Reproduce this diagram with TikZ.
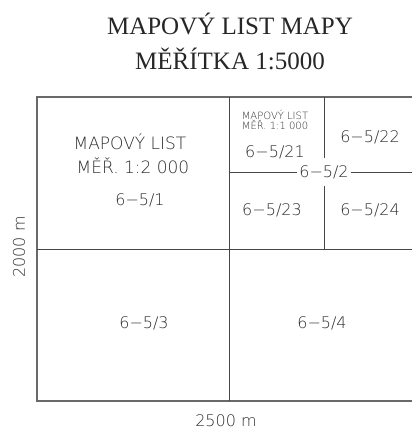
\documentclass[tikz,border=0pt]{standalone}
\usepackage{fontspec}
\setmainfont{Liberation Serif}
\newfontfamily\cadfont{DejaVuSans-ExtraLight.ttf}
\usepackage{xcolor}
\definecolor{rimgray}{RGB}{105,105,105}
\definecolor{linegray}{RGB}{70,70,70}
\definecolor{textgray}{RGB}{45,45,45}
\usetikzlibrary{calc}

\begin{document}
\begin{tikzpicture}[x=0.5pt, y=-0.5pt,
    rim/.style={line width=1pt, draw=rimgray},
    cut/.style={line width=0.5pt, draw=linegray},
    titlelbl/.style={font=\fontsize{12.5}{15}\selectfont, text=black!85, anchor=base, inner sep=0pt},
    lbl/.style={font=\cadfont\fontsize{8}{9.6}\selectfont, text=textgray, anchor=base, inner sep=0pt},
    biglbl/.style={lbl, font=\cadfont\fontsize{8.5}{10}\selectfont},
    smalllbl/.style={lbl, font=\cadfont\fontsize{5}{6}\selectfont}
  ]
    \useasboundingbox (0,0) rectangle (412,427);
    \clip (0,0) rectangle (412,427);

    % title
    \node[titlelbl] (title1) at (230,35) {MAPOVÝ LIST MAPY};
    \node[titlelbl] (title2) at (230,70) {MĚŘÍTKA 1:5000};

    % corners of the sheet
    \coordinate (nw) at (37,97);
    \coordinate (sw) at (37,401);
    \coordinate (ne) at (412,97);
    \coordinate (se) at (412,401);
    \coordinate (n) at (229,97);
    \coordinate (s) at (229,401);
    \coordinate (w) at (37,249);
    \coordinate (e) at (412,249);
    \coordinate (qn) at (324,97);
    \coordinate (qs) at (324,249);
    \coordinate (qw) at (229,172);
    \coordinate (qe) at (412,172);

    \draw[rim] (ne) -- (nw) -- (sw) -- (se);
    \draw[cut] (n) -- (s);
    \draw[cut] (w) -- (e);

    % sheet labels
    \node[biglbl] (m1a) at (130,149) {MAPOVÝ LIST};
    \node[biglbl] (m1b) at (133,174) {MĚŘ. 1:2 000};
    \node[lbl] (l1) at (140,205) {6−5/1};
    \node[smalllbl] (m21a) at (275,120) {MAPOVÝ LIST};
    \node[smalllbl] (m21b) at (275,130) {MĚŘ. 1:1 000};
    \node[lbl] (l21) at (275,157) {6−5/21};
    \node[lbl] (l22) at (370,143) {6−5/22};
    \node[lbl, inner xsep=1pt, inner ysep=3.5pt] (l2) at (324,177) {6−5/2};
    \node[lbl] (l23) at (272,215) {6−5/23};
    \node[lbl] (l24) at (370,215) {6−5/24};
    \node[lbl] (l3) at (144,328) {6−5/3};
    \node[lbl] (l4) at (322,328) {6−5/4};

    % quarter of 6-5/2, broken at its label
    \draw[cut] (qw) -- (qw -| l2.west);
    \draw[cut] (qe -| l2.east) -- (qe);
    \draw[cut] (qn) -- (qn |- l2.north);
    \draw[cut] (qs |- l2.south) -- (qs);

    % dimensions
    \node[lbl] (dimx) at (226,426) {2500 m};
    \node[lbl, rotate=90] (dimy) at (25,247) {2000 m};
  \end{tikzpicture}
\end{document}
